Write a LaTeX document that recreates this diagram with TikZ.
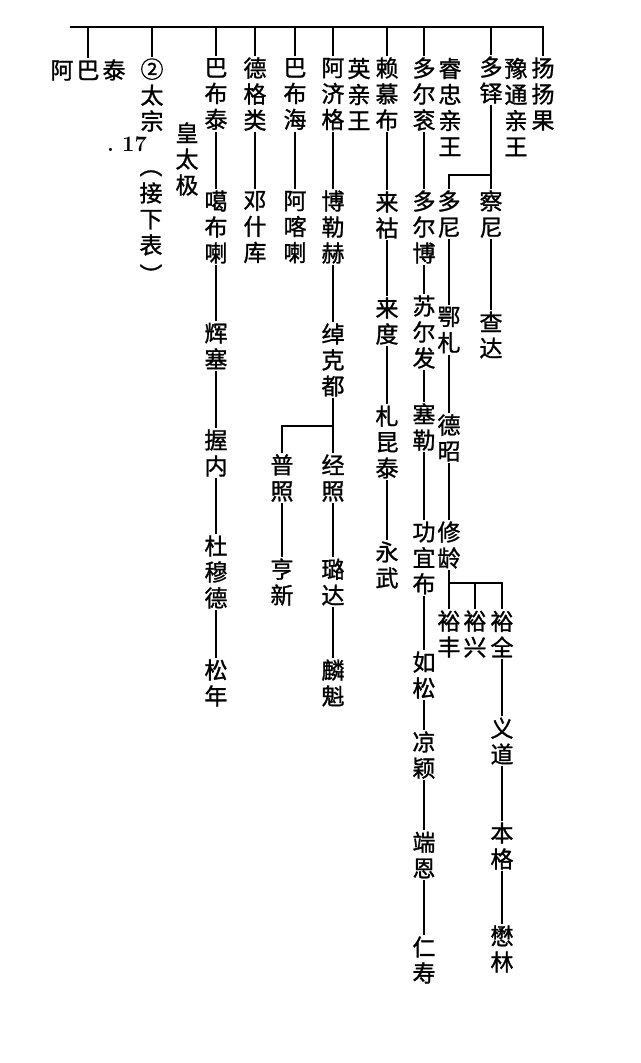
\documentclass[tikz,border=0pt]{standalone}
\usepackage{fontspec}
\newfontfamily\cjk{Noto Sans CJK SC}[FakeBold=1.2]
\begin{document}
\begin{tikzpicture}[x=1pt,y=-1pt,
  person/.style={font=\cjk\fontsize{23}{26}\selectfont, align=center, inner sep=1.5pt},
  link/.style={black, line width=1.1pt}]
\useasboundingbox (0,0) rectangle (640,1063);
\coordinate (barL) at (70,27);
\coordinate (forkA) at (491,175);
\coordinate (forkB) at (333,426);
\coordinate (forkC) at (449,583);
\node[person] (abatai) at (88,70) {阿\hspace{3pt}巴\hspace{3pt}泰};
\node[person] (taizong) at (152,95) {②\\太\\宗};
\node[person] (jiexia) at (151,227) {︵\\[1pt]接\\下\\表\\[4pt]︶};
\node[font=\bfseries\fontsize{22}{22}\selectfont, inner sep=0] (num) at (127,144) {.\ 17};
\node[person] (huangtaiji) at (187,159) {皇\\太\\极};
\foreach \n/\x/\y/\t in {babutai/216/94/巴\\布\\泰, degelei/255/94/德\\格\\类, babuhai/295/94/巴\\布\\海,
  ajige/333/94/阿\\济\\格, yingqinwang/359/94/英\\亲\\王, laimubu/387/94/赖\\慕\\布,
  duoergun/424/94/多\\尔\\衮, ruizhong/450/107/睿\\忠\\亲\\王, duoduo/491/80/多\\铎,
  yutong/516/107/豫\\通\\亲\\王, yangyangguo/543/94/扬\\扬\\果,
  gabula/216/227/噶\\布\\喇, dengshiku/255/227/邓\\什\\库, akala/295/227/阿\\喀\\喇,
  bolehe/333/227/博\\勒\\赫, laihu/387/215/来\\祜, duoerbo/424/227/多\\尔\\博,
  duoni/449/214/多\\尼, chani/491/214/察\\尼,
  huisai/216/346/辉\\塞, zhuokedu/333/360/绰\\克\\都, laidu/387/321/来\\度,
  suerfa/424/332/苏\\尔\\发, ezha/449/330/鄂\\札, chada/491/335/查\\达,
  wonei/216/453/握\\内, puzhao/282/478/普\\照, jingzhao/333/478/经\\照,
  zhakuntai/387/442/札\\昆\\泰, saile/424/427/塞\\勒, dezhao/449/438/德\\昭,
  dumude/216/572/杜\\穆\\德, hengxin/282/582/亨\\新, luda/333/582/璐\\达,
  yongwu/387/565/永\\武, gongyibu/424/558/功\\宜\\布, xiuling/449/545/修\\龄,
  songnian/216/683/松\\年, linkui/333/683/麟\\魁, rusong/424/675/如\\松,
  yufeng/449/634/裕\\丰, yuxing/475/634/裕\\兴, yuquan/502/634/裕\\全,
  yidao/502/741/义\\道, liangying/424/755/凉\\颖, benge/502/846/本\\格,
  duanen/424/855/端\\恩, maolin/502/949/懋\\林, renshou/424/960/仁\\寿}
  \node[person] (\n) at (\x,\y) {\t};
\draw[link] (barL) -| (yangyangguo);
\foreach \n in {abatai,taizong,babutai,degelei,babuhai,ajige,laimubu,duoergun,duoduo}
  \draw[link] (\n) -- (\n |- barL);
\foreach \a/\b in {babutai/gabula, gabula/huisai, huisai/wonei, wonei/dumude, dumude/songnian,
  degelei/dengshiku, babuhai/akala, ajige/bolehe, bolehe/zhuokedu, zhuokedu/jingzhao,
  jingzhao/luda, luda/linkui, puzhao/hengxin, laimubu/laihu, laihu/laidu, laidu/zhakuntai,
  zhakuntai/yongwu, duoergun/duoerbo, duoerbo/suerfa, suerfa/saile, saile/gongyibu,
  gongyibu/rusong, rusong/liangying, liangying/duanen, duanen/renshou, duoduo/chani,
  chani/chada, duoni/ezha, ezha/dezhao, dezhao/xiuling, xiuling/yufeng, yuquan/yidao,
  yidao/benge, benge/maolin}
  \draw[link] (\a) -- (\b);
\draw[link] (duoni) |- (forkA);
\draw[link] (puzhao) |- (forkB);
\draw[link] (yuquan) |- (forkC);
\draw[link] (yuxing) -- (yuxing |- forkC);
\end{tikzpicture}
\end{document}
